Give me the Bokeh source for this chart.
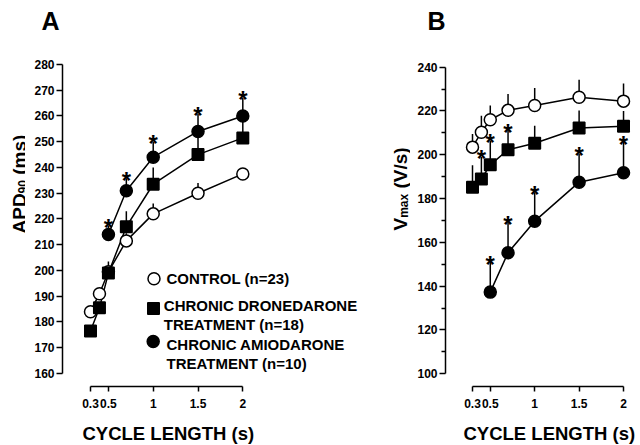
import math
from bokeh.plotting import figure
from bokeh.layouts import row
from bokeh.models import FixedTicker, Range1d, Label, ColumnDataSource, Title
from bokeh.core.properties import value
from bokeh.embed import file_html
from bokeh.resources import INLINE

# ---------------- data ----------------
cycle_len = [0.3, 0.4, 0.5, 0.7, 1.0, 1.5, 2.0]
cycle_len_amio = [0.5, 0.7, 1.0, 1.5, 2.0]

apd_control = [184, 191, 199.5, 211.5, 222, 230, 237.5]
apd_control_err = [1.5, 2, 2, 3, 4, 4, 2]
apd_drone = [176.5, 185.5, 199, 217, 233.5, 245, 251.5]
apd_drone_err = [2, 2, 4.5, 6, 6.5, 9.5, 8.5]
apd_amio = [214, 231, 244, 254, 260]
apd_amio_err = [3.5, 4.8, 6, 6.8, 7]
apd_amio_star = [True, True, True, True, True]

vmax_control = [203.5, 210.3, 216, 220.3, 222.5, 226.3, 224.5]
vmax_control_err = [6, 7.5, 6.5, 7.5, 8, 8, 8]
vmax_drone = [185.2, 189, 195.4, 202.3, 205.3, 212.2, 213]
vmax_drone_err = [10, 10, 11, 9, 8, 8, 7]
vmax_drone_star = [False, True, True, True, False, False, False]
vmax_amio = [137.3, 155.3, 169.7, 187.5, 191.8]
vmax_amio_err = [13.7, 14, 13.2, 13, 14]
vmax_amio_star = [True, True, True, True, True]

x_ticks = [0.3, 0.5, 1.0, 1.5, 2.0]
x_tick_labels = ["0.3", "0.5", "1", "1.5", "2"]
apd_ticks = list(range(160, 281, 10))
vmax_ticks = list(range(100, 241, 20))
vmax_minor = list(range(110, 231, 20))

x_title = "CYCLE LENGTH (s)"
legend_labels = ["CONTROL (n=23)", "CHRONIC DRONEDARONE", "TREATMENT (n=18)",
                 "CHRONIC AMIODARONE", "TREATMENT (n=10)"]

FONT = "Liberation Sans"
H = 445
TOP, BOTTOM = 40, 59
FB = H - BOTTOM  # page y of the frame bottoms (386)


def side_title(p, text, side, size, offset, standoff, valign):
    t = Title(text=text, align="left", offset=offset, standoff=standoff, text_font=FONT,
              text_font_style="bold", text_font_size=size, text_color="black",
              vertical_align=valign)
    p.add_layout(t, side)


def make_fig(width, xr, yr, left, yb, yticks, yminor, title, title_offset, xt_offset):
    p = figure(width=width, height=H, x_range=Range1d(*xr), y_range=Range1d(*yr),
               output_backend="svg", toolbar_location=None,
               min_border_left=left, min_border_right=0, min_border_top=TOP,
               min_border_bottom=BOTTOM)
    p.outline_line_color = None
    p.grid.visible = False
    p.background_fill_color = "white"
    p.border_fill_color = "white"
    for ax in (p.xaxis, p.yaxis):
        ax.axis_line_width = 1.5
        ax.major_tick_line_width = 1.5
        ax.minor_tick_line_width = 1.5
        ax.major_tick_in = 0
        ax.minor_tick_in = 0
        ax.major_label_text_font = FONT
        ax.major_label_text_font_style = "bold"
        ax.major_label_text_font_size = "12px"
        ax.major_label_text_color = "black"
        ax.axis_line_color = "black"
        ax.major_tick_line_color = "black"
    p.xaxis.ticker = FixedTicker(ticks=x_ticks)
    p.xaxis.major_label_overrides = {t: l for t, l in zip(x_ticks, x_tick_labels)}
    p.xaxis.minor_tick_line_color = None
    p.xaxis.major_tick_out = 5
    p.xaxis.major_label_standoff = 7
    p.xaxis.bounds = (x_ticks[0], x_ticks[-1])
    # invisible spacer label: pushes the axis title panel a few pixels lower
    p.xaxis.axis_label = " "
    p.xaxis.axis_label_text_font_size = "1px"
    p.xaxis.axis_label_standoff = 5
    p.yaxis.ticker = FixedTicker(ticks=yticks, minor_ticks=yminor)
    p.yaxis.major_tick_out = 6
    p.yaxis.minor_tick_out = 4
    p.yaxis.minor_tick_line_color = "black"
    p.yaxis.major_label_standoff = 2
    p.yaxis.bounds = yb
    side_title(p, title, "above", "25px", title_offset, 8, "top")
    side_title(p, x_title, "below", "18.5px", xt_offset, 2, "bottom")
    return p


def label_fig(width):
    p = figure(width=width, height=H, x_range=Range1d(0, 1), y_range=Range1d(0, 1),
               output_backend="svg", toolbar_location=None, x_axis_type=None, y_axis_type=None,
               min_border_left=0, min_border_right=0, min_border_top=TOP,
               min_border_bottom=BOTTOM)
    p.outline_line_color = None
    p.background_fill_color = "white"
    p.border_fill_color = "white"
    return p


def rot_label(p, x0, px, py, text, size):
    p.add_layout(Label(x=px - x0, y=FB - py, x_units="screen", y_units="screen", text=text,
                       text_font=FONT, text_font_style="bold", text_font_size=size,
                       text_align="left", text_baseline="alphabetic", angle=math.pi / 2,
                       text_color="black"))


def add_series(p, xs, ys, errs, marker, fill, stars, layer):
    src = ColumnDataSource(dict(x=xs, y=ys, top=[a + b for a, b in zip(ys, errs)]))
    if layer == 0:
        p.segment(x0="x", y0="y", x1="x", y1="top", source=src, line_color="black", line_width=1.5)
    elif layer == 1:
        p.line(x="x", y="y", source=src, line_color="black", line_width=1.5)
    elif layer == 2:
        p.scatter(x="x", y="y", source=src, marker=marker, size=12 if marker == "circle" else 11.5,
                  fill_color=fill, line_color="black", line_width=1.5)
    elif layer == 3 and stars is not None:
        sx = [x for x, s in zip(xs, stars) if s]
        st = [t for t, s in zip(src.data["top"], stars) if s]
        p.text(x=sx, y=st, text=["*"] * len(sx), text_font=value(FONT), text_font_style="bold",
               text_font_size="24px", text_align="center", text_baseline="alphabetic",
               y_offset=2, text_color="black")


# ---------------- y title for panel A (page x 0..25) ----------------
pya = label_fig(25)
rot_label(pya, 0, 18.5, 233, "APD", "19px")
rot_label(pya, 0, 22, 192.9, "90", "12px")
rot_label(pya, 0, 18.5, 174.3, "(ms)", "19px")

# ---------------- panel A (page x 25..378, frame from 62) ----------------
A_FL = 62
A_XR = (-0.0125, 3.5145)
A_YR = (154.95, 289.32)
pa = make_fig(353, A_XR, A_YR, A_FL - 25, (160, 280), apd_ticks, [], "A", -21, 20)
series_a = [
    (cycle_len, apd_control, apd_control_err, "circle", "white", None),
    (cycle_len, apd_drone, apd_drone_err, "square", "black", None),
    (cycle_len_amio, apd_amio, apd_amio_err, "circle", "black", apd_amio_star),
]
for layer in range(4):
    for s in series_a:
        add_series(pa, *s, layer)


def a_data(px, py):
    return (A_XR[0] + (px - A_FL) / 89.6, A_YR[0] + (FB - py) / 2.575)


# legend swatches (screen positions converted to data space)
sw_pos = [(153.5, 278.3, "circle", "white", 12), (153, 308, "square", "black", 11.5),
          (152.7, 341, "circle", "black", 12)]
for px, py, mk, fc, sz in sw_pos:
    dx, dy = a_data(px, py)
    pa.scatter(x=[dx], y=[dy], marker=mk, size=sz, fill_color=fc, line_color="black", line_width=1.5)

leg_pos = [(166, 278), (163.3, 304.5), (163.3, 323.5), (166, 344), (166, 363)]
for (px, py), t in zip(leg_pos, legend_labels):
    pa.add_layout(Label(x=px - A_FL, y=FB - py, x_units="screen", y_units="screen", text=t,
                        text_font=FONT, text_font_style="bold", text_font_size="15px",
                        text_align="left", text_baseline="middle", text_color="black"))

# ---------------- y title for panel B (page x 378..410) ----------------
pyb = label_fig(32)
rot_label(pyb, 378, 400, 230, "V", "19px")
rot_label(pyb, 378, 403.5, 217.3, "max", "12px")
rot_label(pyb, 378, 400, 188, "(V/s)", "19px")

# ---------------- panel B (page x 410..640, frame from 445) ----------------
pb = make_fig(230, (-0.004, 2.191), (94.2, 252.19), 445 - 410, (100, 240), vmax_ticks,
              vmax_minor, "B", -18, 18)
series_b = [
    (cycle_len, vmax_control, vmax_control_err, "circle", "white", None),
    (cycle_len, vmax_drone, vmax_drone_err, "square", "black", vmax_drone_star),
    (cycle_len_amio, vmax_amio, vmax_amio_err, "circle", "black", vmax_amio_star),
]
for layer in range(4):
    for s in series_b:
        add_series(pb, *s, layer)

layout = row(pya, pa, pyb, pb)
open("out.html", "w").write(file_html(layout, INLINE))
